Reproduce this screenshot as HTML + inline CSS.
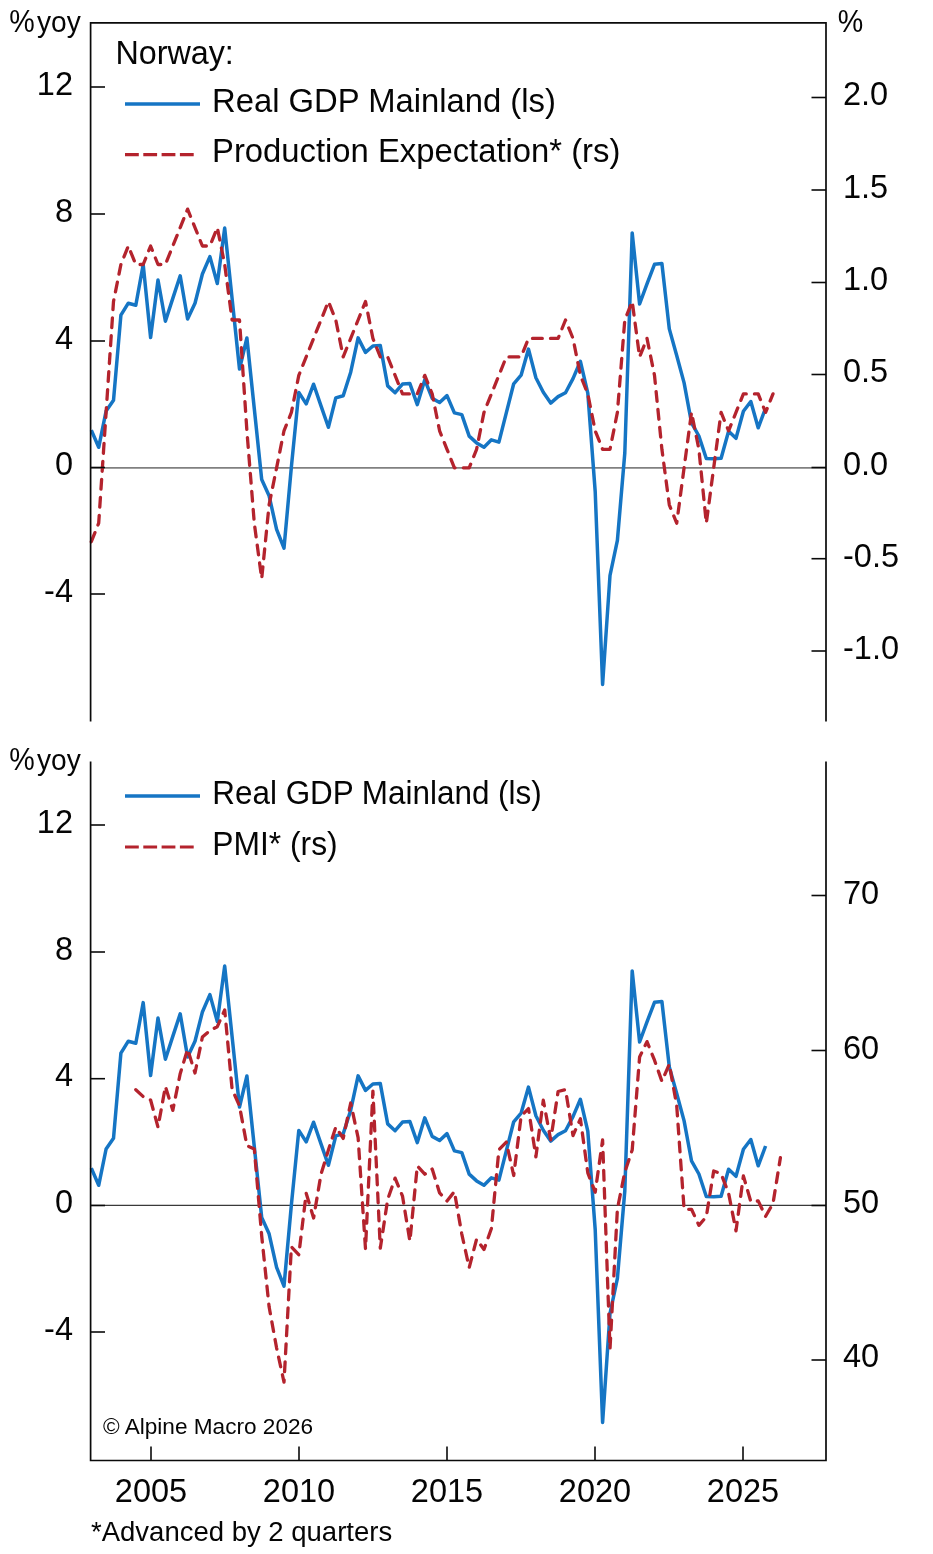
<!DOCTYPE html>
<html><head><meta charset="utf-8"><title>Norway chart</title>
<style>html,body{margin:0;padding:0;background:#fff;}svg{display:block;will-change:transform;}text{font-family:"Liberation Sans",sans-serif;}</style>
</head><body>
<svg width="933" height="1554" viewBox="0 0 933 1554">
<rect width="933" height="1554" fill="#fff"/>
<line x1="91" y1="467.9" x2="826" y2="467.9" stroke="#808080" stroke-width="1.7"/>
<line x1="91" y1="1205.4" x2="826" y2="1205.4" stroke="#3a3a3a" stroke-width="1.2"/>
<polyline points="91.3,430.1 98.7,447.3 106.1,411.0 113.5,400.3 120.9,315.2 128.3,303.2 135.8,305.3 143.2,264.6 150.6,337.5 158.0,280.0 165.4,321.2 172.8,298.4 180.2,275.8 187.6,319.0 195.0,303.2 202.4,274.0 209.9,256.6 217.3,283.5 224.7,228.1 232.1,298.6 239.5,369.0 246.9,338.0 254.3,408.7 261.7,479.5 269.1,495.8 276.6,529.3 284.0,548.1 291.4,466.7 298.8,392.4 306.2,403.9 313.6,384.2 321.0,405.9 328.4,427.3 335.8,397.9 343.2,395.8 350.7,372.2 358.1,337.9 365.5,352.4 372.9,346.0 380.3,345.6 387.7,385.9 395.1,392.7 402.5,384.1 409.9,383.6 417.3,404.6 424.8,379.8 432.2,398.4 439.6,402.5 447.0,395.6 454.4,412.9 461.8,414.6 469.2,436.1 476.6,442.9 484.0,447.2 491.4,439.8 498.9,442.1 506.3,412.9 513.7,383.8 521.1,375.2 528.5,349.1 535.9,377.8 543.3,392.3 550.7,403.1 558.1,396.6 565.5,392.7 573.0,378.6 580.4,361.3 587.8,393.2 595.2,491.5 602.6,684.4 610.0,575.5 617.4,540.3 624.8,453.0 632.2,232.9 639.6,304.0 647.0,283.8 654.5,264.3 661.9,263.5 669.3,328.9 676.7,355.5 684.1,382.9 691.5,422.8 698.9,436.0 706.3,458.5 713.7,458.8 721.1,458.3 728.6,431.3 736.0,438.3 743.4,411.3 750.8,401.5 758.2,427.8 765.6,408.0" fill="none" stroke="#1575c4" stroke-width="3.5" stroke-linejoin="round" stroke-linecap="butt"/>
<polyline points="91.3,541.7 98.7,523.2 106.1,412.4 113.5,301.5 120.9,264.5 128.3,246.0 135.8,264.5 143.2,264.5 150.6,246.0 158.0,264.5 165.4,264.5 172.8,246.0 180.2,227.6 187.6,209.1 195.0,227.6 202.4,246.0 209.9,246.0 217.3,227.6 224.7,264.5 232.1,320.0 239.5,320.0 246.9,430.8 254.3,523.2 261.7,578.7 269.1,504.8 276.6,467.8 284.0,430.8 291.4,412.4 298.8,375.4 306.2,356.9 313.6,338.4 321.0,320.0 328.4,301.5 335.8,320.0 343.2,356.9 350.7,338.4 358.1,320.0 365.5,301.5 372.9,338.4 380.3,356.9 387.7,356.9 395.1,375.4 402.5,393.9 409.9,393.9 417.3,393.9 424.8,375.4 432.2,393.9 439.6,430.8 447.0,449.3 454.4,467.8 461.8,467.8 469.2,467.8 476.6,449.3 484.0,412.4 491.4,393.9 498.9,375.4 506.3,356.9 513.7,356.9 521.1,356.9 528.5,338.4 535.9,338.4 543.3,338.4 550.7,338.4 558.1,338.4 565.5,320.0 573.0,338.4 580.4,375.4 587.8,393.9 595.2,430.8 602.6,449.3 610.0,449.3 617.4,412.4 624.8,320.0 632.2,301.5 639.6,356.9 647.0,338.4 654.5,375.4 661.9,449.3 669.3,504.8 676.7,523.2 684.1,467.8 691.5,412.4 698.9,449.3 706.3,523.2 713.7,467.8 721.1,412.4 728.6,430.8 736.0,412.4 743.4,393.9 750.8,393.9 758.2,393.9 765.6,412.4 773.0,393.9" fill="none" stroke="#b4232d" stroke-width="3.3" stroke-linejoin="round" stroke-linecap="round" stroke-dasharray="9.8 8.2"/>
<polyline points="91.3,1168.1 98.7,1185.3 106.1,1149.0 113.5,1138.3 120.9,1053.2 128.3,1041.2 135.8,1043.3 143.2,1002.6 150.6,1075.5 158.0,1018.0 165.4,1059.2 172.8,1036.4 180.2,1013.8 187.6,1057.0 195.0,1041.2 202.4,1012.0 209.9,994.6 217.3,1021.5 224.7,966.1 232.1,1036.6 239.5,1107.0 246.9,1076.0 254.3,1146.7 261.7,1217.5 269.1,1233.8 276.6,1267.3 284.0,1286.1 291.4,1204.7 298.8,1130.4 306.2,1141.9 313.6,1122.2 321.0,1143.9 328.4,1165.3 335.8,1135.9 343.2,1133.8 350.7,1110.2 358.1,1075.9 365.5,1090.4 372.9,1084.0 380.3,1083.6 387.7,1123.9 395.1,1130.7 402.5,1122.1 409.9,1121.6 417.3,1142.6 424.8,1117.8 432.2,1136.4 439.6,1140.5 447.0,1133.6 454.4,1150.9 461.8,1152.6 469.2,1174.1 476.6,1180.9 484.0,1185.2 491.4,1177.8 498.9,1180.1 506.3,1150.9 513.7,1121.8 521.1,1113.2 528.5,1087.1 535.9,1115.8 543.3,1130.3 550.7,1141.1 558.1,1134.6 565.5,1130.7 573.0,1116.6 580.4,1099.3 587.8,1131.2 595.2,1229.5 602.6,1422.4 610.0,1313.5 617.4,1278.3 624.8,1191.0 632.2,970.9 639.6,1042.0 647.0,1021.8 654.5,1002.3 661.9,1001.5 669.3,1066.9 676.7,1093.5 684.1,1120.9 691.5,1160.8 698.9,1174.0 706.3,1196.5 713.7,1196.8 721.1,1196.3 728.6,1169.3 736.0,1176.3 743.4,1149.3 750.8,1139.5 758.2,1165.8 765.6,1146.0" fill="none" stroke="#1575c4" stroke-width="3.5" stroke-linejoin="round" stroke-linecap="butt"/>
<polyline points="135.8,1089.7 143.2,1096.6 150.6,1100.0 158.0,1127.1 165.4,1086.5 172.8,1110.3 180.2,1073.7 187.6,1049.2 195.0,1073.0 202.4,1037.0 209.9,1030.5 217.3,1026.7 224.7,1009.9 232.1,1089.1 239.5,1106.0 246.9,1145.6 254.3,1148.9 261.7,1236.0 269.1,1306.8 276.6,1348.0 284.0,1382.1 291.4,1246.8 298.8,1254.8 306.2,1193.3 313.6,1218.0 321.0,1174.3 328.4,1150.1 335.8,1127.0 343.2,1138.4 350.7,1103.0 358.1,1137.6 365.5,1248.9 372.9,1091.2 380.3,1248.2 387.7,1199.3 395.1,1178.1 402.5,1196.1 409.9,1241.2 417.3,1165.9 424.8,1174.2 432.2,1169.1 439.6,1192.9 447.0,1201.0 454.4,1191.6 461.8,1234.1 469.2,1267.6 476.6,1239.2 484.0,1249.5 491.4,1228.5 498.9,1149.8 506.3,1142.1 513.7,1175.5 521.1,1116.3 528.5,1108.6 535.9,1156.9 543.3,1100.2 550.7,1139.8 558.1,1091.5 565.5,1089.6 573.0,1135.5 580.4,1118.8 587.8,1172.9 595.2,1192.2 602.6,1140.0 610.0,1349.0 617.4,1209.0 624.8,1172.0 632.2,1150.0 639.6,1057.0 647.0,1041.6 654.5,1060.2 661.9,1081.3 669.3,1064.2 676.7,1105.5 684.1,1209.3 691.5,1209.3 698.9,1225.3 706.3,1216.7 713.7,1171.0 721.1,1173.8 728.6,1193.3 736.0,1230.9 743.4,1175.9 750.8,1201.6 758.2,1200.9 765.6,1216.3 773.0,1203.5 780.4,1157.7" fill="none" stroke="#b4232d" stroke-width="3.3" stroke-linejoin="round" stroke-linecap="round" stroke-dasharray="9.8 8.2"/>
<path d="M90.6 721.5 V22.9 H826 V721.5" fill="none" stroke="#0a0a0a" stroke-width="1.7"/>
<path d="M90.6 761.5 V1460.5 H826 V761.5" fill="none" stroke="#0a0a0a" stroke-width="1.7"/>
<line x1="90.6" y1="87" x2="105" y2="87" stroke="#0a0a0a" stroke-width="1.6"/>
<line x1="90.6" y1="214" x2="105" y2="214" stroke="#0a0a0a" stroke-width="1.6"/>
<line x1="90.6" y1="341" x2="105" y2="341" stroke="#0a0a0a" stroke-width="1.6"/>
<line x1="90.6" y1="467.5" x2="105" y2="467.5" stroke="#0a0a0a" stroke-width="1.6"/>
<line x1="90.6" y1="594" x2="105" y2="594" stroke="#0a0a0a" stroke-width="1.6"/>
<line x1="811.5" y1="97.5" x2="826" y2="97.5" stroke="#0a0a0a" stroke-width="1.6"/>
<line x1="811.5" y1="190" x2="826" y2="190" stroke="#0a0a0a" stroke-width="1.6"/>
<line x1="811.5" y1="282.5" x2="826" y2="282.5" stroke="#0a0a0a" stroke-width="1.6"/>
<line x1="811.5" y1="374.5" x2="826" y2="374.5" stroke="#0a0a0a" stroke-width="1.6"/>
<line x1="811.5" y1="467.5" x2="826" y2="467.5" stroke="#0a0a0a" stroke-width="1.6"/>
<line x1="811.5" y1="558.7" x2="826" y2="558.7" stroke="#0a0a0a" stroke-width="1.6"/>
<line x1="811.5" y1="651" x2="826" y2="651" stroke="#0a0a0a" stroke-width="1.6"/>
<line x1="90.6" y1="825" x2="105" y2="825" stroke="#0a0a0a" stroke-width="1.6"/>
<line x1="90.6" y1="952" x2="105" y2="952" stroke="#0a0a0a" stroke-width="1.6"/>
<line x1="90.6" y1="1078.7" x2="105" y2="1078.7" stroke="#0a0a0a" stroke-width="1.6"/>
<line x1="90.6" y1="1205.5" x2="105" y2="1205.5" stroke="#0a0a0a" stroke-width="1.6"/>
<line x1="90.6" y1="1332" x2="105" y2="1332" stroke="#0a0a0a" stroke-width="1.6"/>
<line x1="811.5" y1="895.5" x2="826" y2="895.5" stroke="#0a0a0a" stroke-width="1.6"/>
<line x1="811.5" y1="1050.5" x2="826" y2="1050.5" stroke="#0a0a0a" stroke-width="1.6"/>
<line x1="811.5" y1="1205.5" x2="826" y2="1205.5" stroke="#0a0a0a" stroke-width="1.6"/>
<line x1="811.5" y1="1360" x2="826" y2="1360" stroke="#0a0a0a" stroke-width="1.6"/>
<line x1="151.0" y1="1446.5" x2="151.0" y2="1460.5" stroke="#0a0a0a" stroke-width="1.6"/>
<line x1="299.0" y1="1446.5" x2="299.0" y2="1460.5" stroke="#0a0a0a" stroke-width="1.6"/>
<line x1="447.0" y1="1446.5" x2="447.0" y2="1460.5" stroke="#0a0a0a" stroke-width="1.6"/>
<line x1="595.0" y1="1446.5" x2="595.0" y2="1460.5" stroke="#0a0a0a" stroke-width="1.6"/>
<line x1="743.0" y1="1446.5" x2="743.0" y2="1460.5" stroke="#0a0a0a" stroke-width="1.6"/>
<text x="73" y="94.6" font-size="32.5" text-anchor="end" fill="#050505">12</text>
<text x="73" y="221.6" font-size="32.5" text-anchor="end" fill="#050505">8</text>
<text x="73" y="348.6" font-size="32.5" text-anchor="end" fill="#050505">4</text>
<text x="73" y="474.6" font-size="32.5" text-anchor="end" fill="#050505">0</text>
<text x="73" y="601.6" font-size="32.5" text-anchor="end" fill="#050505">-4</text>
<text x="843" y="105" font-size="32.5" text-anchor="start" fill="#050505">2.0</text>
<text x="843" y="198" font-size="32.5" text-anchor="start" fill="#050505">1.5</text>
<text x="843" y="290" font-size="32.5" text-anchor="start" fill="#050505">1.0</text>
<text x="843" y="382" font-size="32.5" text-anchor="start" fill="#050505">0.5</text>
<text x="843" y="475" font-size="32.5" text-anchor="start" fill="#050505">0.0</text>
<text x="843" y="567" font-size="32.5" text-anchor="start" fill="#050505">-0.5</text>
<text x="843" y="659" font-size="32.5" text-anchor="start" fill="#050505">-1.0</text>
<text x="73" y="832.6" font-size="32.5" text-anchor="end" fill="#050505">12</text>
<text x="73" y="959.6" font-size="32.5" text-anchor="end" fill="#050505">8</text>
<text x="73" y="1086.1" font-size="32.5" text-anchor="end" fill="#050505">4</text>
<text x="73" y="1213.1" font-size="32.5" text-anchor="end" fill="#050505">0</text>
<text x="73" y="1339.6" font-size="32.5" text-anchor="end" fill="#050505">-4</text>
<text x="843" y="903.5" font-size="32.5" text-anchor="start" fill="#050505">70</text>
<text x="843" y="1058.5" font-size="32.5" text-anchor="start" fill="#050505">60</text>
<text x="843" y="1213" font-size="32.5" text-anchor="start" fill="#050505">50</text>
<text x="843" y="1367" font-size="32.5" text-anchor="start" fill="#050505">40</text>
<text x="151.0" y="1502" font-size="32.5" text-anchor="middle" fill="#050505">2005</text>
<text x="299.0" y="1502" font-size="32.5" text-anchor="middle" fill="#050505">2010</text>
<text x="447.0" y="1502" font-size="32.5" text-anchor="middle" fill="#050505">2015</text>
<text x="595.0" y="1502" font-size="32.5" text-anchor="middle" fill="#050505">2020</text>
<text x="743.0" y="1502" font-size="32.5" text-anchor="middle" fill="#050505">2025</text>
<text transform="translate(9.2,32.3) scale(0.955,1.075)" font-size="30" fill="#050505">%</text>
<text transform="translate(37,32.3) scale(0.947,1)" font-size="29.7" fill="#050505">yoy</text>
<text transform="translate(9.2,769.9) scale(0.955,1.075)" font-size="30" fill="#050505">%</text>
<text transform="translate(37,769.9) scale(0.947,1)" font-size="29.7" fill="#050505">yoy</text>
<text transform="translate(837.7,32.3) scale(0.955,1.075)" font-size="30" fill="#050505">%</text>
<text x="115.4" y="64.1" font-size="32.3" text-anchor="start" fill="#050505">Norway:</text>
<text x="212" y="112" font-size="32.8" text-anchor="start" fill="#050505">Real GDP Mainland (ls)</text>
<text x="212" y="161.8" font-size="32.8" text-anchor="start" fill="#050505">Production Expectation* (rs)</text>
<text x="212.3" y="804" font-size="32.8" text-anchor="start" fill="#050505" textLength="329.4" lengthAdjust="spacingAndGlyphs">Real GDP Mainland (ls)</text>
<text x="212.3" y="854.5" font-size="32.8" text-anchor="start" fill="#050505" textLength="125.4" lengthAdjust="spacingAndGlyphs">PMI* (rs)</text>
<text x="103" y="1434" font-size="22.6" text-anchor="start" fill="#050505">© Alpine Macro 2026</text>
<text x="91" y="1541" font-size="27.5" text-anchor="start" fill="#050505">*Advanced by 2 quarters</text>
<line x1="125" y1="104" x2="200" y2="104" stroke="#1575c4" stroke-width="3.4"/>
<line x1="125" y1="154.6" x2="195" y2="154.6" stroke="#b4232d" stroke-width="3.2" stroke-dasharray="13.8 4.5"/>
<line x1="125" y1="796" x2="200" y2="796" stroke="#1575c4" stroke-width="3.4"/>
<line x1="125" y1="847" x2="195" y2="847" stroke="#b4232d" stroke-width="3.2" stroke-dasharray="13.8 4.5"/>
</svg>
</body></html>
